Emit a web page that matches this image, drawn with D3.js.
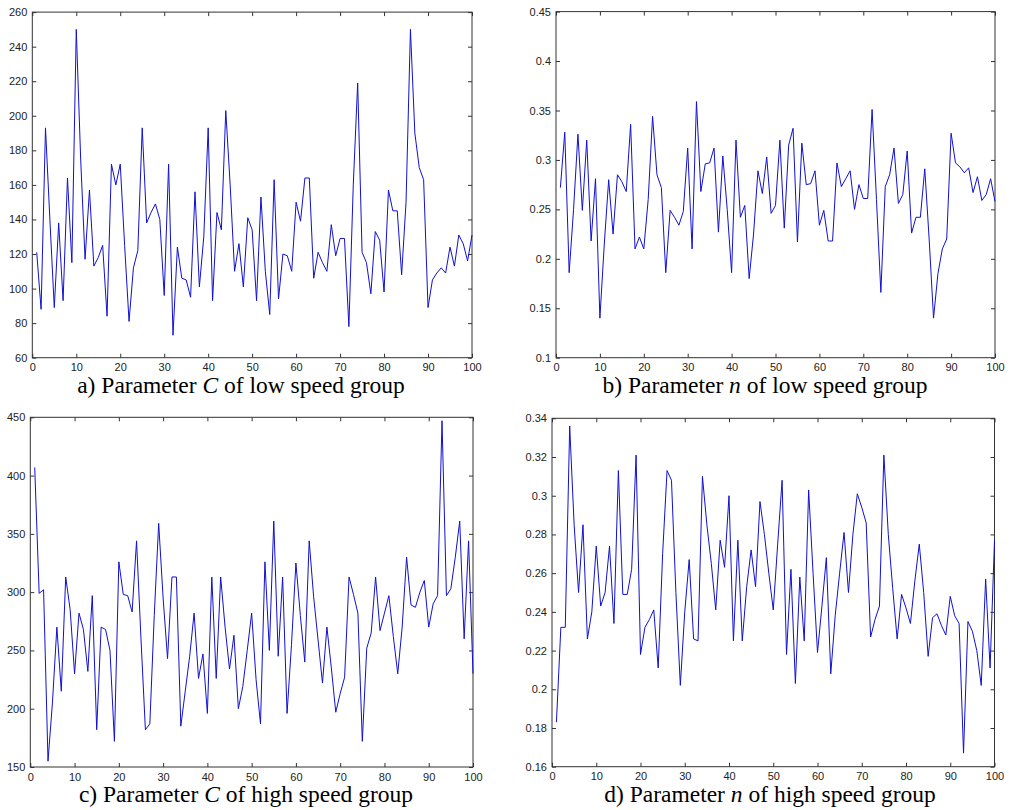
<!DOCTYPE html>
<html>
<head>
<meta charset="utf-8">
<script src="https://d3js.org/d3.v7.min.js"></script>
<style>
  body { margin: 0; background: #fff; }
  .tick text { font-family: "Liberation Sans", Arial, sans-serif; font-size: 11px; fill: #222; }
  .tick line { stroke: #333; }
  .caption { font-family: "Liberation Serif", "Times New Roman", serif; font-size: 23.5px; fill: #000; }
</style>
</head>
<body>
<svg width="1016" height="810"></svg>
<script>
// samples 1..100
const lowC = [121, 88, 193, 140, 89, 138, 93, 164, 115, 250,
  175, 117, 157, 113, 118, 125, 84, 172, 160, 172,
  125, 81, 112, 122, 193, 138, 144, 149, 140, 96,
  172, 73, 124, 106, 105, 95, 156, 101, 130, 193,
  93, 144, 134, 203, 160, 110, 126, 101, 141, 134,
  93, 153, 110, 85, 163, 94, 120, 119, 110, 150,
  139, 164, 164, 106, 121, 115, 110, 137, 119, 129,
  129, 78, 160, 219, 121, 115, 97, 133, 128, 98,
  157, 145, 145, 108, 150, 250, 190, 170, 163, 89,
  105, 109, 112, 109, 124, 113, 131, 126, 116, 131];

const lowN = [0.272, 0.328, 0.186, 0.25, 0.326, 0.249, 0.32, 0.218, 0.281, 0.14,
  0.215, 0.28, 0.225, 0.285, 0.278, 0.268, 0.336, 0.21, 0.222, 0.21,
  0.26, 0.344, 0.285, 0.272, 0.186, 0.249, 0.242, 0.234, 0.248, 0.312,
  0.21, 0.359, 0.268, 0.296, 0.297, 0.312, 0.227, 0.304, 0.25, 0.186,
  0.32, 0.242, 0.254, 0.18, 0.225, 0.289, 0.266, 0.303, 0.246, 0.254,
  0.32, 0.231, 0.315, 0.332, 0.217, 0.317, 0.275, 0.276, 0.289, 0.234,
  0.249, 0.218, 0.218, 0.297, 0.273, 0.281, 0.289, 0.25, 0.275, 0.261,
  0.261, 0.351, 0.26, 0.166, 0.273, 0.285, 0.312, 0.256, 0.265, 0.309,
  0.226, 0.242, 0.242, 0.291, 0.22, 0.14, 0.185, 0.21, 0.22, 0.327,
  0.297, 0.293, 0.287, 0.292, 0.267, 0.283, 0.259, 0.265, 0.281, 0.258];

const highC = [407, 299, 302, 155, 205, 270, 215, 313, 285, 230,
  282, 268, 232, 297, 182, 270, 268, 250, 172, 326,
  298, 297, 283, 344, 260, 182, 187, 280, 359, 295,
  243, 313, 313, 185, 215, 245, 282, 226, 247, 196,
  313, 226, 313, 270, 234, 263, 200, 219, 250, 282,
  225, 187, 326, 250, 361, 245, 313, 196, 255, 325,
  280, 240, 344, 296, 259, 222, 270, 235, 197, 213,
  227, 313, 298, 282, 172, 252, 265, 313, 267, 282,
  297, 262, 230, 270, 330, 289, 287, 300, 310, 270,
  290, 297, 447, 297, 303, 330, 361, 260, 344, 230];

const highN = [0.183, 0.232, 0.232, 0.336, 0.285, 0.25, 0.285, 0.226, 0.24, 0.274,
  0.243, 0.25, 0.274, 0.234, 0.313, 0.249, 0.249, 0.262, 0.321, 0.218,
  0.232, 0.236, 0.241, 0.211, 0.27, 0.313, 0.308, 0.25, 0.202, 0.24,
  0.267, 0.226, 0.225, 0.31, 0.285, 0.265, 0.241, 0.277, 0.263, 0.3,
  0.225, 0.277, 0.225, 0.253, 0.272, 0.253, 0.297, 0.28, 0.26, 0.241,
  0.275, 0.308, 0.218, 0.262, 0.203, 0.258, 0.225, 0.303, 0.26, 0.219,
  0.243, 0.268, 0.208, 0.238, 0.26, 0.281, 0.25, 0.28, 0.301, 0.294,
  0.286, 0.227, 0.236, 0.243, 0.321, 0.28, 0.252, 0.226, 0.249, 0.242,
  0.234, 0.256, 0.275, 0.25, 0.217, 0.237, 0.239, 0.233, 0.228, 0.248,
  0.238, 0.234, 0.167, 0.235, 0.23, 0.22, 0.202, 0.257, 0.211, 0.277];

const xTicks = [0, 10, 20, 30, 40, 50, 60, 70, 80, 90, 100];
const lowCTicks = [60, 80, 100, 120, 140, 160, 180, 200, 220, 240, 260];
const lowNTicks = [0.1, 0.15, 0.2, 0.25, 0.3, 0.35, 0.4, 0.45];
const highCTicks = [150, 200, 250, 300, 350, 400, 450];
const highNTicks = [0.16, 0.18, 0.2, 0.22, 0.24, 0.26, 0.28, 0.3, 0.32, 0.34];

const captions = [
  ["a) Parameter ", "C", " of low speed group"],
  ["b) Parameter ", "n", " of low speed group"],
  ["c) Parameter ", "C", " of high speed group"],
  ["d) Parameter ", "n", " of high speed group"]
];

const panels = [
  {values: lowC,  ticks: lowCTicks,  box: [32.3, 12.1, 472, 357.7],  cap: captions[0], capX: 241, capY: 392.5},
  {values: lowN,  ticks: lowNTicks,  box: [556, 11.6, 995, 357.7],   cap: captions[1], capX: 765, capY: 392.5},
  {values: highC, ticks: highCTicks, box: [30.3, 417.3, 473, 767],   cap: captions[2], capX: 246, capY: 802},
  {values: highN, ticks: highNTicks, box: [552, 418.3, 994.5, 766.7], cap: captions[3], capX: 770, capY: 802}
];

const svg = d3.select("svg");

panels.forEach(p => {
  const [x0, y0, x1, y1] = p.box;
  const x = d3.scaleLinear().domain([0, 100]).range([x0, x1]);
  const y = d3.scaleLinear().domain(d3.extent(p.ticks)).range([y1, y0]);
  const g = svg.append("g");

  // ticks on all four sides, pointing inwards
  g.append("g").attr("transform", `translate(0,${y1})`)
    .call(d3.axisBottom(x).tickValues(xTicks).tickSize(-4).tickSizeOuter(0).tickPadding(6))
    .call(a => a.select(".domain").remove());
  g.append("g").attr("transform", `translate(0,${y0})`)
    .call(d3.axisTop(x).tickValues(xTicks).tickSize(-4).tickSizeOuter(0).tickFormat(""))
    .call(a => a.select(".domain").remove());
  g.append("g").attr("transform", `translate(${x0},0)`)
    .call(d3.axisLeft(y).tickValues(p.ticks).tickSize(-4).tickSizeOuter(0).tickPadding(5).tickFormat(d => String(d)))
    .call(a => a.select(".domain").remove());
  g.append("g").attr("transform", `translate(${x1},0)`)
    .call(d3.axisRight(y).tickValues(p.ticks).tickSize(-4).tickSizeOuter(0).tickFormat(""))
    .call(a => a.select(".domain").remove());

  g.selectAll(".tick text").attr("fill", "#222");

  g.append("rect")
    .attr("x", x0).attr("y", y0)
    .attr("width", x1 - x0).attr("height", y1 - y0)
    .attr("fill", "none").attr("stroke", "#333").attr("stroke-width", 1);

  const line = d3.line().x((d, i) => x(i + 1)).y(d => y(d));
  g.append("path")
    .datum(p.values)
    .attr("d", line)
    .attr("fill", "none")
    .attr("stroke", "#1010d0")
    .attr("stroke-width", 1);

  const t = g.append("text").attr("class", "caption")
    .attr("x", p.capX).attr("y", p.capY).attr("text-anchor", "middle");
  t.append("tspan").text(p.cap[0]);
  t.append("tspan").attr("font-style", "italic").text(p.cap[1]);
  t.append("tspan").text(p.cap[2]);
});
</script>
</body>
</html>
